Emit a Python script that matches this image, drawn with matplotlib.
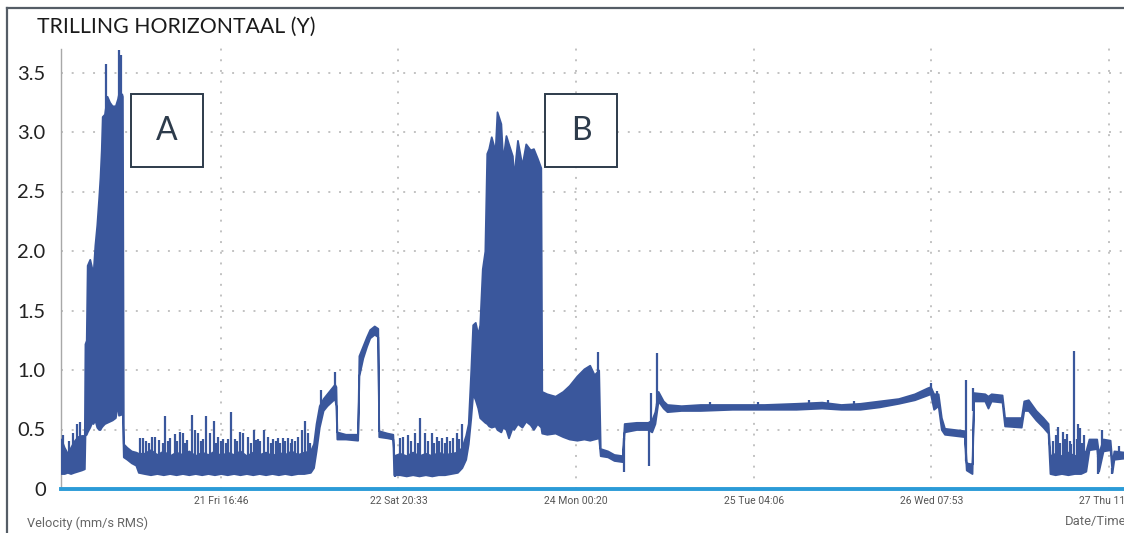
"""
Vibration trend, horizontal (Y) channel: velocity in mm/s RMS over about a week.

Saves out.png.
"""

import matplotlib
matplotlib.use("Agg")
import matplotlib.pyplot as plt
from matplotlib.lines import Line2D
from matplotlib.patches import Rectangle
import numpy as np

# Trace envelope, hours since start of the recording: lower / upper value per point
band_t = [
    0.0, 0.5, 1.0, 1.5, 2.0, 2.6, 3.2, 3.65,
    # event A
    3.75, 3.95, 4.1, 4.5, 4.8, 5.0, 5.3, 5.6, 5.9, 6.1, 6.3, 6.45, 6.8, 7.2,
    7.6, 8.0, 8.5, 8.85, 9.0, 9.5, 9.6, 9.75,
    10.3, 11.0, 11.7, 12.1,
    13.0, 14.0, 15.0, 16.0, 17.0, 18.0, 19.0, 20.0, 21.0, 22.0, 23.0, 24.0,
    25.0, 26.0, 27.0, 28.0, 29.0, 30.0, 31.0, 32.0, 33.0, 34.0, 35.0, 36.0,
    37.0, 38.0, 39.0,
    39.5, 39.9, 40.4, 41.0, 41.6, 42.2, 42.8, 43.0, 43.15, 44.5, 46.4,
    46.6, 47.2, 47.8, 48.3, 49.0, 49.55, 49.7, 51.0, 51.9, 52.05,
    53.0, 54.0, 55.0, 56.0, 57.0, 58.0, 59.0, 60.0, 61.0, 62.0, 62.7,
    63.3, 63.7, 64.1, 64.4, 64.8, 65.2,
    # event B
    65.5, 65.9, 66.3, 66.6, 66.9, 67.3, 67.9, 68.2, 68.8, 69.1, 69.6, 70.0,
    70.6, 70.8, 71.4, 72.1, 72.7, 73.4, 73.9, 74.5, 75.05, 75.2,
    76.0, 77.3, 78.5, 79.5, 80.7, 81.8, 82.7, 83.4, 84.1, 84.35,
    85.5, 86.5, 87.8, 88.1, 90.0, 91.8, 92.4, 92.9, 93.4, 94.2, 94.8,
    97.0, 100.0, 105.0, 110.0, 115.0, 119.0, 122.0, 125.0, 128.0, 131.0,
    133.5, 135.5, 136.0, 136.5, 137.2, 137.7, 138.2, 141.3, 141.6, 142.5,
    142.75, 144.5, 145.0, 145.5, 147.2, 147.6, 150.2, 150.6, 151.3, 152.5,
    153.6, 154.4, 154.7,
    155.5, 156.5, 157.5, 158.5, 159.5, 160.3, 160.8, 162.0, 162.3, 163.0,
    164.1, 164.4, 164.7, 166.3,
]
band_lo = [
    0.13, 0.13, 0.14, 0.13, 0.14, 0.15, 0.16, 0.17,
    0.45, 0.46, 0.48, 0.52, 0.56, 0.55, 0.58, 0.52, 0.50, 0.50, 0.52, 0.53, 0.55, 0.56,
    0.57, 0.58, 0.60, 0.72, 0.62, 0.63, 0.62, 0.27,
    0.25, 0.22, 0.20, 0.14,
    0.13, 0.12, 0.13, 0.12, 0.13, 0.12, 0.13, 0.12, 0.13, 0.12, 0.13, 0.12,
    0.13, 0.12, 0.13, 0.12, 0.13, 0.12, 0.13, 0.12, 0.13, 0.12, 0.13, 0.12,
    0.13, 0.13, 0.14,
    0.18, 0.32, 0.52, 0.66, 0.70, 0.73, 0.76, 0.70, 0.42, 0.42, 0.41,
    0.95, 1.10, 1.20, 1.27, 1.30, 1.28, 0.44, 0.43, 0.42, 0.12,
    0.12, 0.11, 0.12, 0.11, 0.12, 0.11, 0.12, 0.12, 0.13, 0.14, 0.18,
    0.25, 0.38, 0.60, 0.80, 0.75, 0.68,
    0.60, 0.58, 0.56, 0.55, 0.53, 0.52, 0.53, 0.50, 0.48, 0.52, 0.50, 0.43,
    0.52, 0.50, 0.55, 0.52, 0.57, 0.54, 0.50, 0.55, 0.52, 0.47,
    0.46, 0.47, 0.44, 0.42, 0.41, 0.42, 0.41, 0.42, 0.43, 0.28,
    0.27, 0.24, 0.23, 0.48, 0.50, 0.50, 0.48, 0.55, 0.74, 0.68, 0.65,
    0.66, 0.66, 0.67, 0.67, 0.67, 0.68, 0.67, 0.67, 0.69, 0.72,
    0.75, 0.79, 0.80, 0.67, 0.70, 0.50, 0.46, 0.44, 0.16, 0.13,
    0.74, 0.74, 0.68, 0.74, 0.73, 0.53, 0.52, 0.66, 0.66, 0.58,
    0.52, 0.47, 0.13,
    0.12, 0.13, 0.12, 0.13, 0.13, 0.15, 0.33, 0.34, 0.15, 0.32,
    0.33, 0.14, 0.25, 0.26,
]
band_hi = [
    0.42, 0.35, 0.30, 0.35, 0.40, 0.44, 0.45, 0.45,
    1.22, 1.25, 1.88, 1.93, 1.86, 1.80, 2.05, 2.22, 2.45, 2.62, 2.85, 3.13, 3.15, 3.30,
    3.25, 3.22, 3.22, 3.28, 3.32, 3.32, 3.30, 0.38,
    0.35, 0.32, 0.31, 0.30,
    0.30, 0.33, 0.29, 0.32, 0.28, 0.31, 0.29, 0.32, 0.28, 0.31, 0.29, 0.32,
    0.28, 0.31, 0.29, 0.32, 0.28, 0.31, 0.29, 0.31, 0.28, 0.31, 0.29, 0.32,
    0.29, 0.31, 0.32,
    0.38, 0.55, 0.70, 0.76, 0.80, 0.84, 0.88, 0.86, 0.48, 0.46, 0.46,
    1.12, 1.20, 1.28, 1.34, 1.37, 1.35, 0.49, 0.47, 0.46, 0.28,
    0.30, 0.28, 0.31, 0.28, 0.30, 0.28, 0.31, 0.29, 0.30, 0.31, 0.35,
    0.45, 0.55, 1.00, 1.38, 1.40, 1.30,
    1.38, 1.85, 2.00, 2.82, 2.86, 2.96, 2.84, 3.17, 3.07, 2.76, 2.97, 2.90,
    2.80, 2.62, 2.93, 2.72, 2.90, 2.85, 2.86, 2.78, 2.70, 0.82,
    0.80, 0.78, 0.82, 0.87, 0.95, 1.01, 1.04, 0.96, 1.00, 0.34,
    0.32, 0.29, 0.28, 0.55, 0.56, 0.56, 0.58, 0.65, 0.82, 0.74, 0.71,
    0.70, 0.71, 0.71, 0.71, 0.72, 0.73, 0.71, 0.72, 0.74, 0.76,
    0.80, 0.85, 0.86, 0.80, 0.80, 0.60, 0.51, 0.49, 0.22, 0.21,
    0.81, 0.80, 0.78, 0.80, 0.79, 0.60, 0.60, 0.74, 0.75, 0.66,
    0.60, 0.55, 0.28,
    0.30, 0.28, 0.31, 0.28, 0.30, 0.32, 0.42, 0.42, 0.30, 0.42,
    0.41, 0.22, 0.32, 0.31,
]

# Single short excursions above / below the envelope (hours, mm/s)
spike_t = [
    0.3, 1.2, 1.9, 2.5, 3.0,
    7.0, 9.1, 9.45,
    12.4, 12.8, 13.3, 13.8, 14.2, 14.7, 15.3, 15.9, 16.3, 16.7, 17.1, 17.8,
    18.2, 18.6, 19.1, 19.4, 19.7, 20.5, 21.0, 21.4, 21.9, 22.2, 22.7, 23.3,
    23.9, 24.2, 24.6, 25.0, 25.3, 25.8, 26.2, 26.6, 27.2, 27.6, 28.0, 28.5,
    29.3, 29.7, 30.2, 30.5, 30.8, 31.2, 31.8, 32.4, 32.9, 33.2, 33.6, 33.9,
    34.3, 34.7, 35.1, 35.5, 35.9, 36.1, 36.6, 37.1, 37.7, 38.2, 38.6, 38.9,
    40.6, 42.9,
    52.2, 53.0, 53.5, 54.3, 54.8, 55.4, 55.8, 56.2, 56.9, 57.4, 58.0, 58.4,
    58.8, 59.2, 59.6, 60.0, 60.4, 60.9, 61.3, 61.9, 62.3, 62.7,
    84.0,
    88.0, 92.0, 92.3, 93.2,
    101.5, 109.0, 117.0, 120.0, 124.0, 136.1, 137.0, 141.55, 142.7,
    155.2, 155.6, 156.0, 156.3, 156.8, 157.1, 157.4, 157.8, 158.0, 158.5,
    158.9, 159.1, 159.4, 159.7, 160.0, 162.2, 162.8, 164.4, 165.5,
]
spike_v = [
    0.45, 0.40, 0.47, 0.55, 0.56,
    3.57, 3.69, 3.65,
    0.43, 0.43, 0.40, 0.39, 0.44, 0.44, 0.41, 0.39, 0.61, 0.40, 0.43, 0.46,
    0.40, 0.48, 0.47, 0.39, 0.41, 0.62, 0.50, 0.47, 0.40, 0.42, 0.61, 0.47,
    0.57, 0.39, 0.44, 0.40, 0.42, 0.39, 0.42, 0.65, 0.42, 0.40, 0.48, 0.47,
    0.44, 0.39, 0.50, 0.41, 0.42, 0.40, 0.50, 0.44, 0.39, 0.42, 0.40, 0.43,
    0.39, 0.43, 0.40, 0.43, 0.39, 0.42, 0.40, 0.44, 0.50, 0.57, 0.47, 0.39,
    0.83, 0.98,
    0.10, 0.43, 0.44, 0.45, 0.40, 0.47, 0.39, 0.60, 0.47, 0.40, 0.47, 0.39,
    0.44, 0.40, 0.43, 0.39, 0.44, 0.40, 0.43, 0.47, 0.42, 0.55,
    1.15,
    0.14, 0.19, 0.81, 1.14,
    0.73, 0.73, 0.75, 0.75, 0.74, 0.89, 0.82, 0.92, 0.85,
    0.40, 0.45, 0.52, 0.39, 0.48, 0.42, 0.46, 0.40, 0.38, 1.16,
    0.42, 0.55, 0.51, 0.39, 0.45, 0.13, 0.50, 0.13, 0.36,
]

tick_hours = [25.0, 52.78, 80.57, 108.35, 136.13, 163.92]
tick_labels = ["21 Fri 16:46", "22 Sat 20:33", "24 Mon 00:20",
               "25 Tue 04:06", "26 Wed 07:53", "27 Thu 11:40"]

# Boxed markers for the two high-vibration events: (letter, left hour, top value)
markers = [("A", 10.95, 3.32), ("B", 75.7, 3.32)]

BLUE = "#3a579c"
AXIS_BLUE = "#2b9bd7"
DARK = "#2d3b4b"
GRID = "#c2c2c2"

W, H = 1124, 533
fig = plt.figure(figsize=(W / 100, H / 100), dpi=100)
fig.patch.set_facecolor("white")

ax = fig.add_axes([61 / W, 1 - 489 / H, (W - 61) / W, (489 - 40) / H])

t = np.asarray(band_t)
lo = np.asarray(band_lo)
hi = np.asarray(band_hi)
ax.fill_between(t, lo, hi, facecolor=BLUE, edgecolor=BLUE, linewidth=1.3,
                zorder=3)

st = np.asarray(spike_t)
base = np.interp(st, t, (lo + hi) / 2)
ax.vlines(st, base, spike_v, color=BLUE, linewidth=1.6, zorder=3)

ax.set_xlim(0, (W - 61) / 6.393)
ax.set_ylim(0, 449 / 119)

ax.set_yticks([0, 0.5, 1.0, 1.5, 2.0, 2.5, 3.0, 3.5])
ax.set_yticklabels(["0", "0.5", "1.0", "1.5", "2.0", "2.5", "3.0", "3.5"],
                   family=["Lato", "DejaVu Sans"], fontsize=14.5, color="#222")
ax.set_xticks(tick_hours)
ax.set_xticklabels(tick_labels, family=["Roboto", "DejaVu Sans"],
                   fontsize=7.5, color="#555")
ax.tick_params(axis="y", length=0, pad=11)
ax.tick_params(axis="x", length=0, pad=5)

ax.grid(True, color=GRID, linestyle=(0, (1, 4.5)), linewidth=1.4, zorder=0)
for s in ("top", "right"):
    ax.spines[s].set_visible(False)
ax.spines["left"].set_color("#a8a8a8")
ax.spines["left"].set_linewidth(1.0)
ax.spines["left"].set_bounds(0, 3.7)
ax.spines["bottom"].set_color(AXIS_BLUE)
ax.spines["bottom"].set_linewidth(2.8)
ax.spines["bottom"].set_zorder(4)

for letter, left, top in markers:
    ax.add_patch(Rectangle((left, top - 0.615), 11.3, 0.615, facecolor="white",
                           edgecolor=DARK, linewidth=1.4, zorder=5))
    ax.text(left + 5.65, top - 0.3075, letter, ha="center", va="center",
            fontsize=23, color=DARK, family=["Lato", "DejaVu Sans"], zorder=6)

fig.text(37 / W, 1 - 27 / H, "TRILLING HORIZONTAAL (Y)", ha="left", va="center",
         fontsize=15.3, color="#1a1a1a", family=["Lato", "DejaVu Sans"])
fig.text(27 / W, 1 - 523 / H, "Velocity (mm/s RMS)", ha="left", va="center",
         fontsize=9.2, color="#666", family=["Roboto", "DejaVu Sans"])
fig.text(1065 / W, 1 - 522 / H, "Date/Time", ha="left", va="center",
         fontsize=9.4, color="#666", family=["Roboto", "DejaVu Sans"])

# panel frame, top and left edges
fig.add_artist(Line2D([7 / W, 1], [1 - 8 / H, 1 - 8 / H], transform=fig.transFigure,
                      color="#555d66", linewidth=1.6))
fig.add_artist(Line2D([7 / W, 7 / W], [0, 1 - 8 / H], transform=fig.transFigure,
                      color="#555d66", linewidth=1.6))

fig.savefig("out.png", dpi=100)
